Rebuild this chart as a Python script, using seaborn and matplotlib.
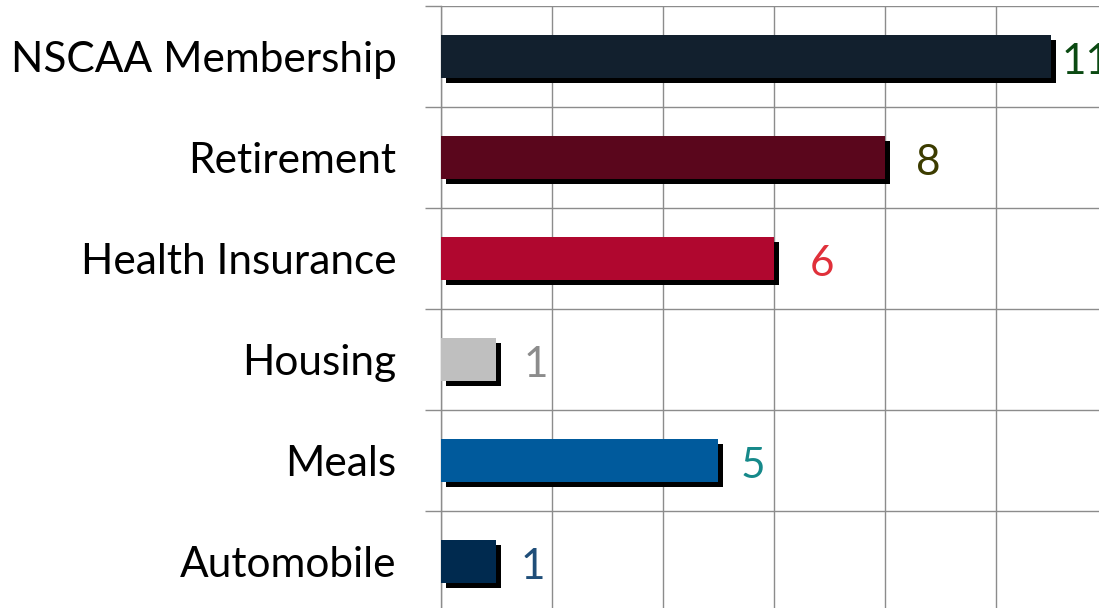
import matplotlib
matplotlib.use("Agg")
import matplotlib.pyplot as plt
import matplotlib.patheffects as pe
import seaborn as sns
import pandas as pd

# chart data
categories = ["NSCAA Membership", "Retirement", "Health Insurance", "Housing", "Meals", "Automobile"]
counts = [11, 8, 6, 1, 5, 1]
bar_colors = ["#12202e", "#5a061c", "#b0072f", "#bfbfbf", "#005a9c", "#002a4f"]
label_colors = ["#0b4a12", "#3c3c00", "#e0303a", "#8c8c8c", "#16898a", "#1f4e79"]
label_gaps = [6, 26, 31, 22, 17, 19]  # px gap between bar end and value label

sns.set_theme(style="white")
plt.rcParams["font.family"] = ["Lato", "DejaVu Sans"]

df = pd.DataFrame({"Benefit": categories, "Count": counts})

fig = plt.figure(figsize=(10.99, 6.08), dpi=100)
ax = fig.add_axes([441 / 1099, -4 / 608, 665.4 / 1099, 606 / 608])

sns.barplot(data=df, x="Count", y="Benefit", hue="Benefit", palette=bar_colors,
            order=categories, hue_order=categories, legend=False, width=0.42,
            saturation=1, linewidth=0, ax=ax)

# drop shadow like the original office chart
shadow = [pe.SimplePatchShadow(offset=(3.6, -3.6), shadow_rgbFace="black", alpha=1.0), pe.Normal()]
for p in ax.patches:
    p.set_path_effects(shadow)
    p.set_zorder(3)

ax.set_xlim(0, 12)
ax.set_ylim(5.5, -0.5)
ax.set_xticks(range(0, 13, 2))
ax.set_xticklabels([])
ax.set_yticks([i - 0.5 for i in range(len(categories) + 1)], minor=True)
ax.tick_params(axis="y", which="minor", length=11.5, width=1, color="#8c8c8c", left=True)
ax.tick_params(axis="y", which="major", length=0, pad=32, labelsize=30.5, labelcolor="black")
ax.tick_params(axis="x", length=0)
ax.grid(True, axis="x", which="major", color="#8c8c8c", linewidth=1)
ax.grid(True, axis="y", which="minor", color="#8c8c8c", linewidth=1)
ax.set_axisbelow(True)
ax.set_xlabel("")
ax.set_ylabel("")
for side in ["top", "right", "bottom"]:
    ax.spines[side].set_visible(False)
ax.spines["left"].set_color("#8c8c8c")
ax.spines["left"].set_linewidth(1)

for i, (v, c, g) in enumerate(zip(counts, label_colors, label_gaps)):
    ax.annotate(str(v), xy=(v, i), xytext=(g * 0.72 + 3.6, -4), textcoords="offset points",
                ha="left", va="center", fontsize=30.5, color=c)

fig.savefig("out.png", dpi=100)
